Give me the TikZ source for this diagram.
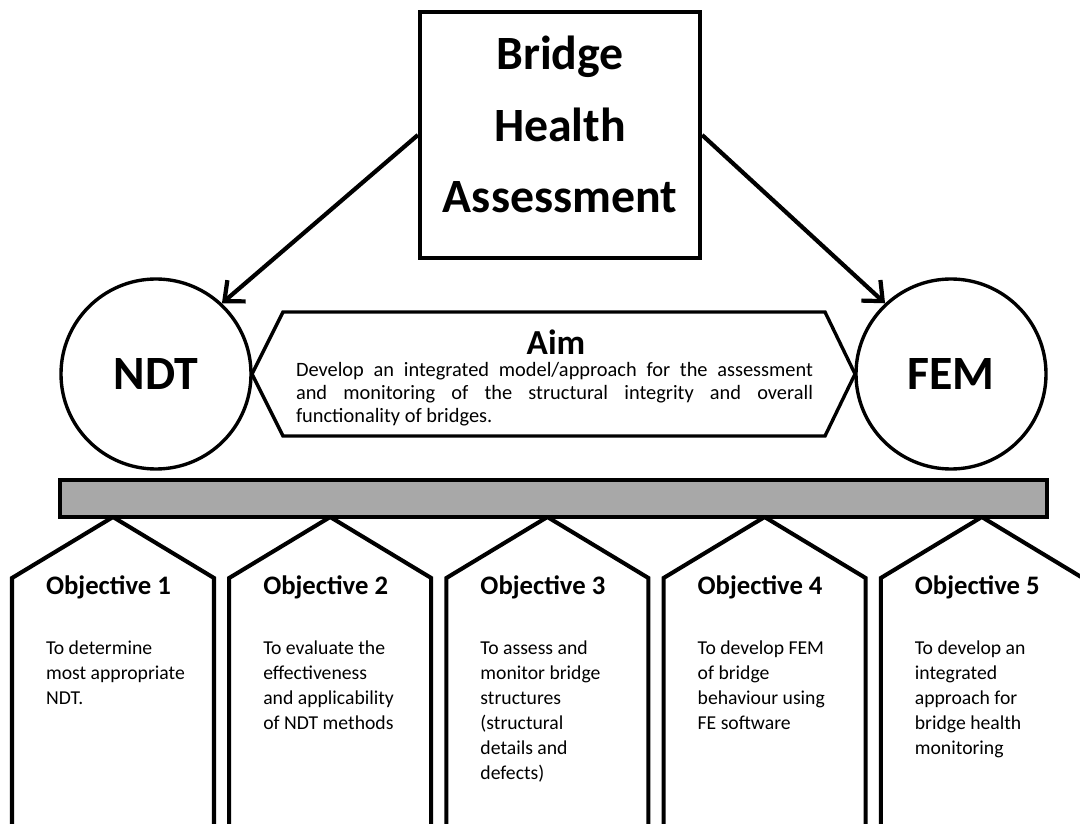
\documentclass[tikz,border=0pt]{standalone}
\usepackage{fontspec}
\setmainfont{Carlito}
\usepackage{xcolor}
\usepackage{tikz}
\usetikzlibrary{arrows.meta}

\definecolor{barfill}{RGB}{168,168,168}

\tikzset{
  bigcircle/.style={draw, circle, line width=2.4pt, minimum size=4.75cm, inner sep=0pt,
    font=\bfseries\fontsize{34}{40}\selectfont},
  linkarrow/.style={-{Straight Barb[length=4mm,width=7mm]}, line width=3pt},
  objline/.style={line width=2.9pt, line join=miter},
  objtitle/.style={anchor=west, inner sep=0pt, font=\bfseries\fontsize{19}{23}\selectfont},
  objtext/.style={anchor=north west, inner sep=0pt, align=left,
    font=\fontsize{14}{17.8}\selectfont}
}

\begin{document}
\begin{tikzpicture}
\useasboundingbox (0,0) rectangle (27,20.575);
% top box
\node[draw, line width=3pt, minimum width=7cm, minimum height=6.15cm, inner sep=0pt] (bha) at (14,17.2) {};
\node[align=center, font=\bfseries\fontsize{34}{51}\selectfont] (bhatext) at (14,17.46) {Bridge\\Health\\Assessment};
% circles
\node[bigcircle] (ndt) at (3.9,11.225) {NDT};
\node[bigcircle] (fem) at (23.775,11.225) {FEM};
\draw[linkarrow] (bha.west) -- (ndt.47);
\draw[linkarrow] (bha.east) -- (fem.133);
% aim
\draw[line width=2.4pt, line join=miter] (6.3,11.225) -- (7.075,12.775) -- (20.625,12.775) -- (21.375,11.225)
  -- (20.625,9.675) -- (7.075,9.675) -- cycle;
\node[font=\bfseries\fontsize{25}{29}\selectfont] (aim) at (13.9,12.03) {Aim};
\node[text width=12.925cm, align=justify, inner sep=0pt, font=\fontsize{14.5}{16.4}\selectfont] (aimtext) at (13.8625,10.72)
  {Develop an integrated model/approach for the assessment\linebreak and monitoring of the structural integrity and overall\linebreak functionality of bridges.};
% objectives
\foreach \i/\txt in {1/{To determine\\most appropriate\\NDT.},
    2/{To evaluate the\\effectiveness\\and applicability\\of NDT methods},
    3/{To assess and\\monitor bridge\\structures\\(structural\\details and\\defects)},
    4/{To develop FEM\\of bridge\\behaviour using\\FE software},
    5/{To develop an\\integrated\\approach for\\bridge health\\monitoring}} {
  \pgfmathsetmacro{\xc}{2.825+5.43*(\i-1)}
  \draw[objline] (\xc-2.525,-0.5) -- (\xc-2.525,6.125) -- (\xc,7.65) -- (\xc+2.525,6.125) -- (\xc+2.525,-0.5);
  \node[objtitle] (obj\i) at (\xc-1.68,5.9) {Objective \i};
  \node[objtext] (objtxt\i) at (\xc-1.68,4.56) {\txt};
}
% bar
\draw[fill=barfill, line width=2.6pt] (1.5,7.65) rectangle (26.175,8.575);
\end{tikzpicture}
\end{document}
